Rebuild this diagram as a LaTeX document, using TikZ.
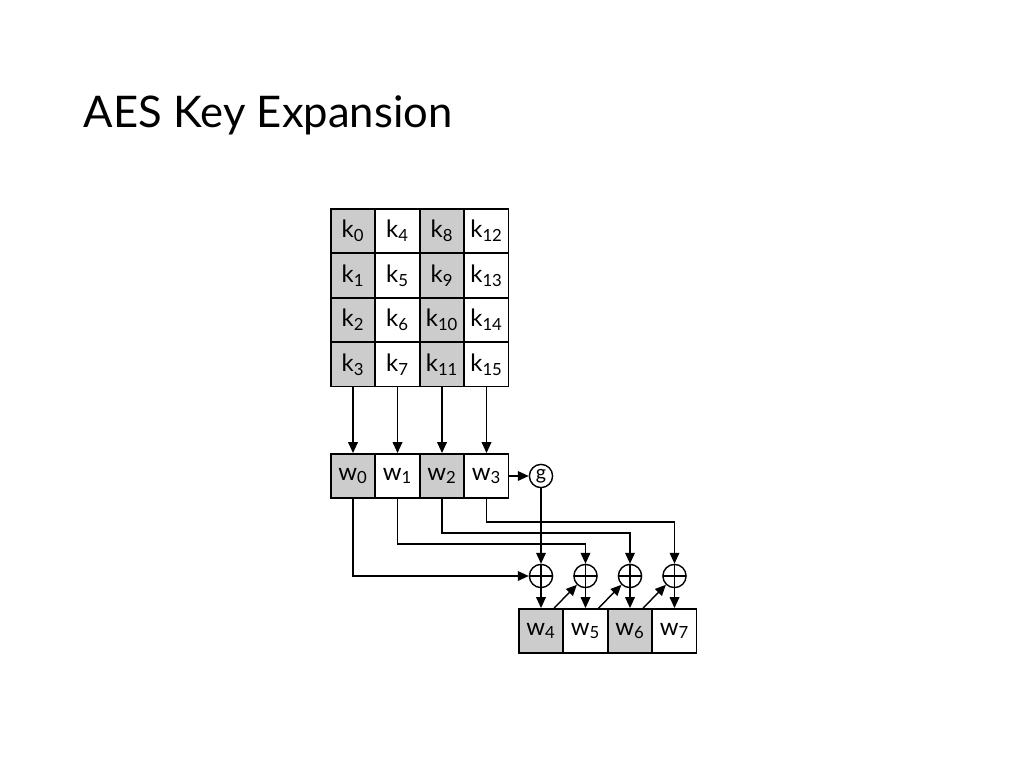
\documentclass[tikz,border=0pt]{standalone}
\usepackage{fontspec}
\setmainfont{Lato}
\usetikzlibrary{arrows.meta}

\begin{document}
\begin{tikzpicture}[x=0.025cm, y=-0.025cm,
                cell/.style={draw, line width=1.1pt, minimum size=11.1mm, inner sep=0pt, font=\fontsize{17}{20}\selectfont},
                shaded/.style={cell, fill=gray!40},
                xorop/.style={circle, draw, line width=1pt, minimum size=5.8mm, inner sep=0pt,
                    path picture={\draw[line width=1pt] (path picture bounding box.north) -- (path picture bounding box.south)
                        (path picture bounding box.west) -- (path picture bounding box.east);}},
                gfun/.style={circle, draw, line width=1pt, minimum size=5.8mm, inner sep=0pt, font=\fontsize{14}{16}\selectfont},
                arr/.style={line width=1pt, -{Triangle[length=2.7mm, width=2.4mm]}}
            ]
            \useasboundingbox (0,0) rectangle (1024,767);
            \node[anchor=base west, font=\fontsize{31}{38}\selectfont] (title) at (79,128) {AES Key Expansion};

            % key bytes and first four words
            \foreach \c/\s in {0/shaded,1/cell,2/shaded,3/cell} {
                \foreach \r in {0,...,3} {
                    \pgfmathtruncatemacro{\n}{4*\c+\r}
                    \node[\s] (k\n) at (353+44.5*\c, 231+44.5*\r) {k\textsubscript{\n}};
                }
                \node[\s] (w\c) at (353+44.5*\c, 476) {w\textsubscript{\c}};
            }
            \node[gfun] (g) at (541,476) {g};

            % next four words and xors
            \foreach \i/\s in {4/shaded,5/cell,6/shaded,7/cell} {
                \node[\s] (w\i) at (541+44.5*\i-178, 631) {w\textsubscript{\i}};
                \node[xorop] (x\i) at (541+44.5*\i-178, 576) {};
                \draw[arr] (x\i) -- (w\i);
            }

            \draw[arr] (k3) -- (w0);
            \draw[arr] (k7) -- (w1);
            \draw[arr] (k11) -- (w2);
            \draw[arr] (k15) -- (w3);
            \draw[arr] (w3) -- (g);
            \draw[arr] (g) -- (x4);
            \draw[arr] (w0.south) |- (x4);
            \draw[arr] (w1.south) -- ++(0,45) -| (x5);
            \draw[arr] (w2.south) -- ++(0,34) -| (x6);
            \draw[arr] (w3.south) -- ++(0,23) -| (x7);
            \draw[arr] ([xshift=-7pt]w4.north east) -- (x5);
            \draw[arr] ([xshift=-7pt]w5.north east) -- (x6);
            \draw[arr] ([xshift=-7pt]w6.north east) -- (x7);
            \end{tikzpicture}
\end{document}
